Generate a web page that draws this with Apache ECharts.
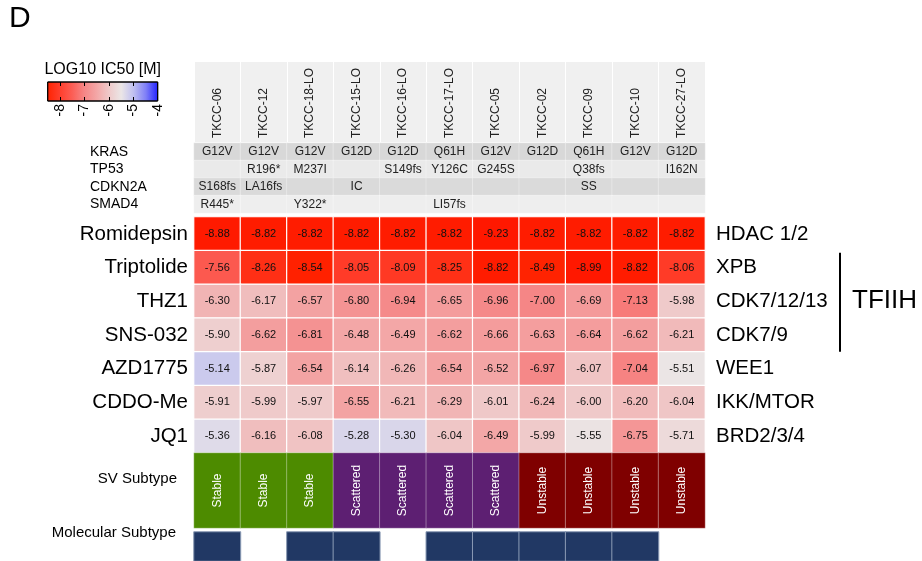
<!DOCTYPE html>
<html>
<head>
<meta charset="utf-8">
<script src="https://cdn.jsdelivr.net/npm/echarts@6/dist/echarts.min.js"></script>
<style>
  html, body { margin: 0; padding: 0; background: #fff; }
  #chart { width: 922px; height: 561px; }
</style>
</head>
<body>
<div id="chart"></div>
<script>
// Cell lines (columns)
const cellLines = ['TKCC-06', 'TKCC-12', 'TKCC-18-LO', 'TKCC-15-LO', 'TKCC-16-LO', 'TKCC-17-LO',
  'TKCC-05', 'TKCC-02', 'TKCC-09', 'TKCC-10', 'TKCC-27-LO'];

// Mutation annotation rows
const genes = ['KRAS', 'TP53', 'CDKN2A', 'SMAD4'];
const krasMut = ['G12V', 'G12V', 'G12V', 'G12D', 'G12D', 'Q61H', 'G12V', 'G12D', 'Q61H', 'G12V', 'G12D'];
const tp53Mut = ['', 'R196*', 'M237I', '', 'S149fs', 'Y126C', 'G245S', '', 'Q38fs', '', 'I162N'];
const cdkn2aMut = ['S168fs', 'LA16fs', '', 'IC', '', '', '', '', 'SS', '', ''];
const smad4Mut = ['R445*', '', 'Y322*', '', '', 'LI57fs', '', '', '', '', ''];
const geneRowColors = ['#d8d8d8', '#eaeaea', '#dadada', '#eeeeee'];

// Drugs, their targets and LOG10 IC50 [M] values
const drugs = ['Romidepsin', 'Triptolide', 'THZ1', 'SNS-032', 'AZD1775', 'CDDO-Me', 'JQ1'];
const targets = ['HDAC 1/2', 'XPB', 'CDK7/12/13', 'CDK7/9', 'WEE1', 'IKK/MTOR', 'BRD2/3/4'];
const romidepsin = [-8.88, -8.82, -8.82, -8.82, -8.82, -8.82, -9.23, -8.82, -8.82, -8.82, -8.82];
const triptolide = [-7.56, -8.26, -8.54, -8.05, -8.09, -8.25, -8.82, -8.49, -8.99, -8.82, -8.06];
const thz1 = [-6.30, -6.17, -6.57, -6.80, -6.94, -6.65, -6.96, -7.00, -6.69, -7.13, -5.98];
const sns032 = [-5.90, -6.62, -6.81, -6.48, -6.49, -6.62, -6.66, -6.63, -6.64, -6.62, -6.21];
const azd1775 = [-5.14, -5.87, -6.54, -6.14, -6.26, -6.54, -6.52, -6.97, -6.07, -7.04, -5.51];
const cddoMe = [-5.91, -5.99, -5.97, -6.55, -6.21, -6.29, -6.01, -6.24, -6.00, -6.20, -6.04];
const jq1 = [-5.36, -6.16, -6.08, -5.28, -5.30, -6.04, -6.49, -5.99, -5.55, -6.75, -5.71];

// Subtypes
const svSubtype = ['Stable', 'Stable', 'Stable', 'Scattered', 'Scattered', 'Scattered', 'Scattered',
  'Unstable', 'Unstable', 'Unstable', 'Unstable'];
const svColors = { Stable: '#4d8b00', Scattered: '#5d1f72', Unstable: '#7f0000' };
const molecularSubtype = [1, 0, 1, 1, 0, 1, 1, 1, 1, 1, 0];

// Colour scale (value -> colour), evenly spaced at 0.5
const scaleMin = -9, scaleMax = -4;
const scaleColors = ['#ff1800', '#ff2200', '#ff3e2c', '#fc5d54', '#f58686', '#f3a6a6',
  '#efc9c9', '#ebe6e6', '#bfbff0', '#7f7ff7', '#2020ff'];
const legendTicks = [-8, -7, -6, -5, -4];
const legendRange = [-8.5, -4];

const FONT = "'Liberation Sans', Arial, Helvetica, sans-serif";
const L = 194, W = 511;

const mutationRows = [krasMut, tp53Mut, cdkn2aMut, smad4Mut];
const mutationData = [];
mutationRows.forEach((row, r) => row.forEach((m, c) => {
  mutationData.push({ value: [c, r, 0], label: { formatter: m }, itemStyle: { color: geneRowColors[r] } });
}));

const drugRows = [romidepsin, triptolide, thz1, sns032, azd1775, cddoMe, jq1];
const icData = [];
drugRows.forEach((row, r) => row.forEach((v, c) => icData.push([c, r, v])));

const svData = svSubtype.map((s, c) => ({ value: [c, 0, 1], itemStyle: { color: svColors[s] } }));
const molData = [];
molecularSubtype.forEach((f, c) => { if (f) molData.push([c, 0, f]); });

// gradient stops for the legend bar, taken from the same scale
const span = legendRange[1] - legendRange[0];
const legendStops = [];
scaleColors.forEach((col, i) => {
  const v = scaleMin + i * (scaleMax - scaleMin) / (scaleColors.length - 1);
  if (v >= legendRange[0] - 1e-9) legendStops.push({ offset: (v - legendRange[0]) / span, color: col });
});

const hiddenCat = (grid, data) => ({ type: 'category', gridIndex: grid, data: data, show: false });

const chart = echarts.init(document.getElementById('chart'), null, { renderer: 'canvas' });
chart.setOption({
  animation: false,
  textStyle: { fontFamily: FONT },
  grid: [
    { left: L, top: 62, width: W, height: 80, show: true, backgroundColor: '#f0f0f0', borderWidth: 0 },
    { left: L, top: 143, width: W, height: 70 },
    { left: L, top: 217, width: W, height: 236 },
    { left: L, top: 453, width: W, height: 75 },
    { left: L, top: 532, width: W, height: 40 },
    { left: 47.7, top: 82, width: 110, height: 19 }
  ],
  xAxis: [
    {
      type: 'category', gridIndex: 0, data: cellLines, position: 'bottom',
      axisLine: { show: false }, axisTick: { show: false },
      splitLine: { show: true, interval: 0, lineStyle: { color: '#ffffff', width: 1 } },
      axisLabel: { interval: 0, inside: true, rotate: 90, margin: 4, fontSize: 12, color: '#222', fontFamily: FONT }
    },
    hiddenCat(1, cellLines),
    hiddenCat(2, cellLines),
    hiddenCat(3, cellLines),
    hiddenCat(4, cellLines),
    {
      type: 'value', gridIndex: 5, min: legendRange[0], max: legendRange[1], position: 'bottom', z: 10,
      axisLine: { show: false }, splitLine: { show: false },
      axisTick: { show: true, inside: true, length: 4, customValues: legendTicks, lineStyle: { color: '#000', width: 1 } },
      axisLabel: { customValues: legendTicks, rotate: 90, margin: 3, fontSize: 14, color: '#000', fontFamily: FONT }
    },
    {
      type: 'value', gridIndex: 5, min: legendRange[0], max: legendRange[1], position: 'top', z: 10,
      axisLine: { show: false }, splitLine: { show: false },
      axisTick: { show: true, inside: true, length: 4, customValues: legendTicks, lineStyle: { color: '#000', width: 1 } },
      axisLabel: { show: false }
    }
  ],
  yAxis: [
    hiddenCat(0, ['']),
    {
      type: 'category', gridIndex: 1, data: genes, inverse: true,
      axisLine: { show: false }, axisTick: { show: false },
      axisLabel: { interval: 0, align: 'left', margin: 104, fontSize: 14, color: '#000', fontFamily: FONT }
    },
    {
      type: 'category', gridIndex: 2, data: drugs, inverse: true,
      axisLine: { show: false }, axisTick: { show: false },
      axisLabel: { interval: 0, margin: 6, fontSize: 20.5, color: '#000', fontFamily: FONT }
    },
    {
      type: 'category', gridIndex: 2, data: targets, inverse: true, position: 'right',
      axisLine: { show: false }, axisTick: { show: false },
      axisLabel: { interval: 0, margin: 11, fontSize: 20.5, color: '#000', fontFamily: FONT }
    },
    hiddenCat(3, ['']),
    hiddenCat(4, ['']),
    { type: 'value', gridIndex: 5, min: 0, max: 1, show: false }
  ],
  visualMap: {
    type: 'continuous', show: false, seriesIndex: 1, dimension: 2,
    min: scaleMin, max: scaleMax, inRange: { color: scaleColors }
  },
  series: [
    {
      type: 'heatmap', xAxisIndex: 1, yAxisIndex: 1, data: mutationData,
      itemStyle: { borderColor: 'rgba(255,255,255,0.55)', borderWidth: 0.6 },
      label: { show: true, fontSize: 12, color: '#222', fontFamily: FONT },
      emphasis: { disabled: true }
    },
    {
      type: 'heatmap', xAxisIndex: 2, yAxisIndex: 2, data: icData,
      itemStyle: { borderColor: '#ffffff', borderWidth: 1.2 },
      label: { show: true, fontSize: 11, color: '#111', fontFamily: FONT, formatter: p => p.value[2].toFixed(2) },
      emphasis: { disabled: true }
    },
    {
      type: 'heatmap', xAxisIndex: 3, yAxisIndex: 4, data: svData,
      itemStyle: { borderColor: 'rgba(255,255,255,0.35)', borderWidth: 1 },
      label: { show: true, rotate: 90, fontSize: 12, color: '#ffffff', fontFamily: FONT, formatter: p => svSubtype[p.value[0]] },
      emphasis: { disabled: true }
    },
    {
      type: 'heatmap', xAxisIndex: 4, yAxisIndex: 5, data: molData,
      itemStyle: { color: '#213864', borderColor: '#8a9ab4', borderWidth: 1 },
      label: { show: false },
      emphasis: { disabled: true }
    },
    {
      type: 'custom', xAxisIndex: 5, yAxisIndex: 6, data: [legendRange],
      encode: { x: [0, 1] }, silent: true,
      renderItem: (params, api) => {
        const p0 = api.coord([api.value(0), 0]);
        const p1 = api.coord([api.value(1), 1]);
        return {
          type: 'rect',
          shape: { x: p0[0], y: p1[1], width: p1[0] - p0[0], height: p0[1] - p1[1] },
          style: { fill: new echarts.graphic.LinearGradient(0, 0, 1, 0, legendStops), stroke: '#000', lineWidth: 1 }
        };
      }
    }
  ]
});

// Panel letter, legend title, annotation row names and the TFIIH bracket spanning XPB..CDK7/9
const band = 236 / drugs.length;
const yTop = chart.convertToPixel({ yAxisIndex: 2 }, 'Triptolide') - band / 2;
const yBot = chart.convertToPixel({ yAxisIndex: 2 }, 'SNS-032') + band / 2;
chart.setOption({
  graphic: [
    { type: 'text', left: 9, top: 4, style: { text: 'D', font: '30px ' + FONT, fill: '#000' } },
    { type: 'text', x: 102.7, y: 70, style: { text: 'LOG10 IC50 [M]', font: '16px ' + FONT, fill: '#000', align: 'center', verticalAlign: 'middle' } },
    { type: 'text', x: 177, y: 479, style: { text: 'SV Subtype', font: '15px ' + FONT, fill: '#000', align: 'right', verticalAlign: 'middle' } },
    { type: 'text', x: 176, y: 533, style: { text: 'Molecular Subtype', font: '15px ' + FONT, fill: '#000', align: 'right', verticalAlign: 'middle' } },
    { type: 'line', shape: { x1: 840, y1: yTop + 2, x2: 840, y2: yBot }, style: { stroke: '#000', lineWidth: 2 } },
    { type: 'text', x: 852, y: (yTop + yBot) / 2, style: { text: 'TFIIH', font: '26px ' + FONT, fill: '#000', verticalAlign: 'middle' } }
  ]
});
</script>
</body>
</html>
